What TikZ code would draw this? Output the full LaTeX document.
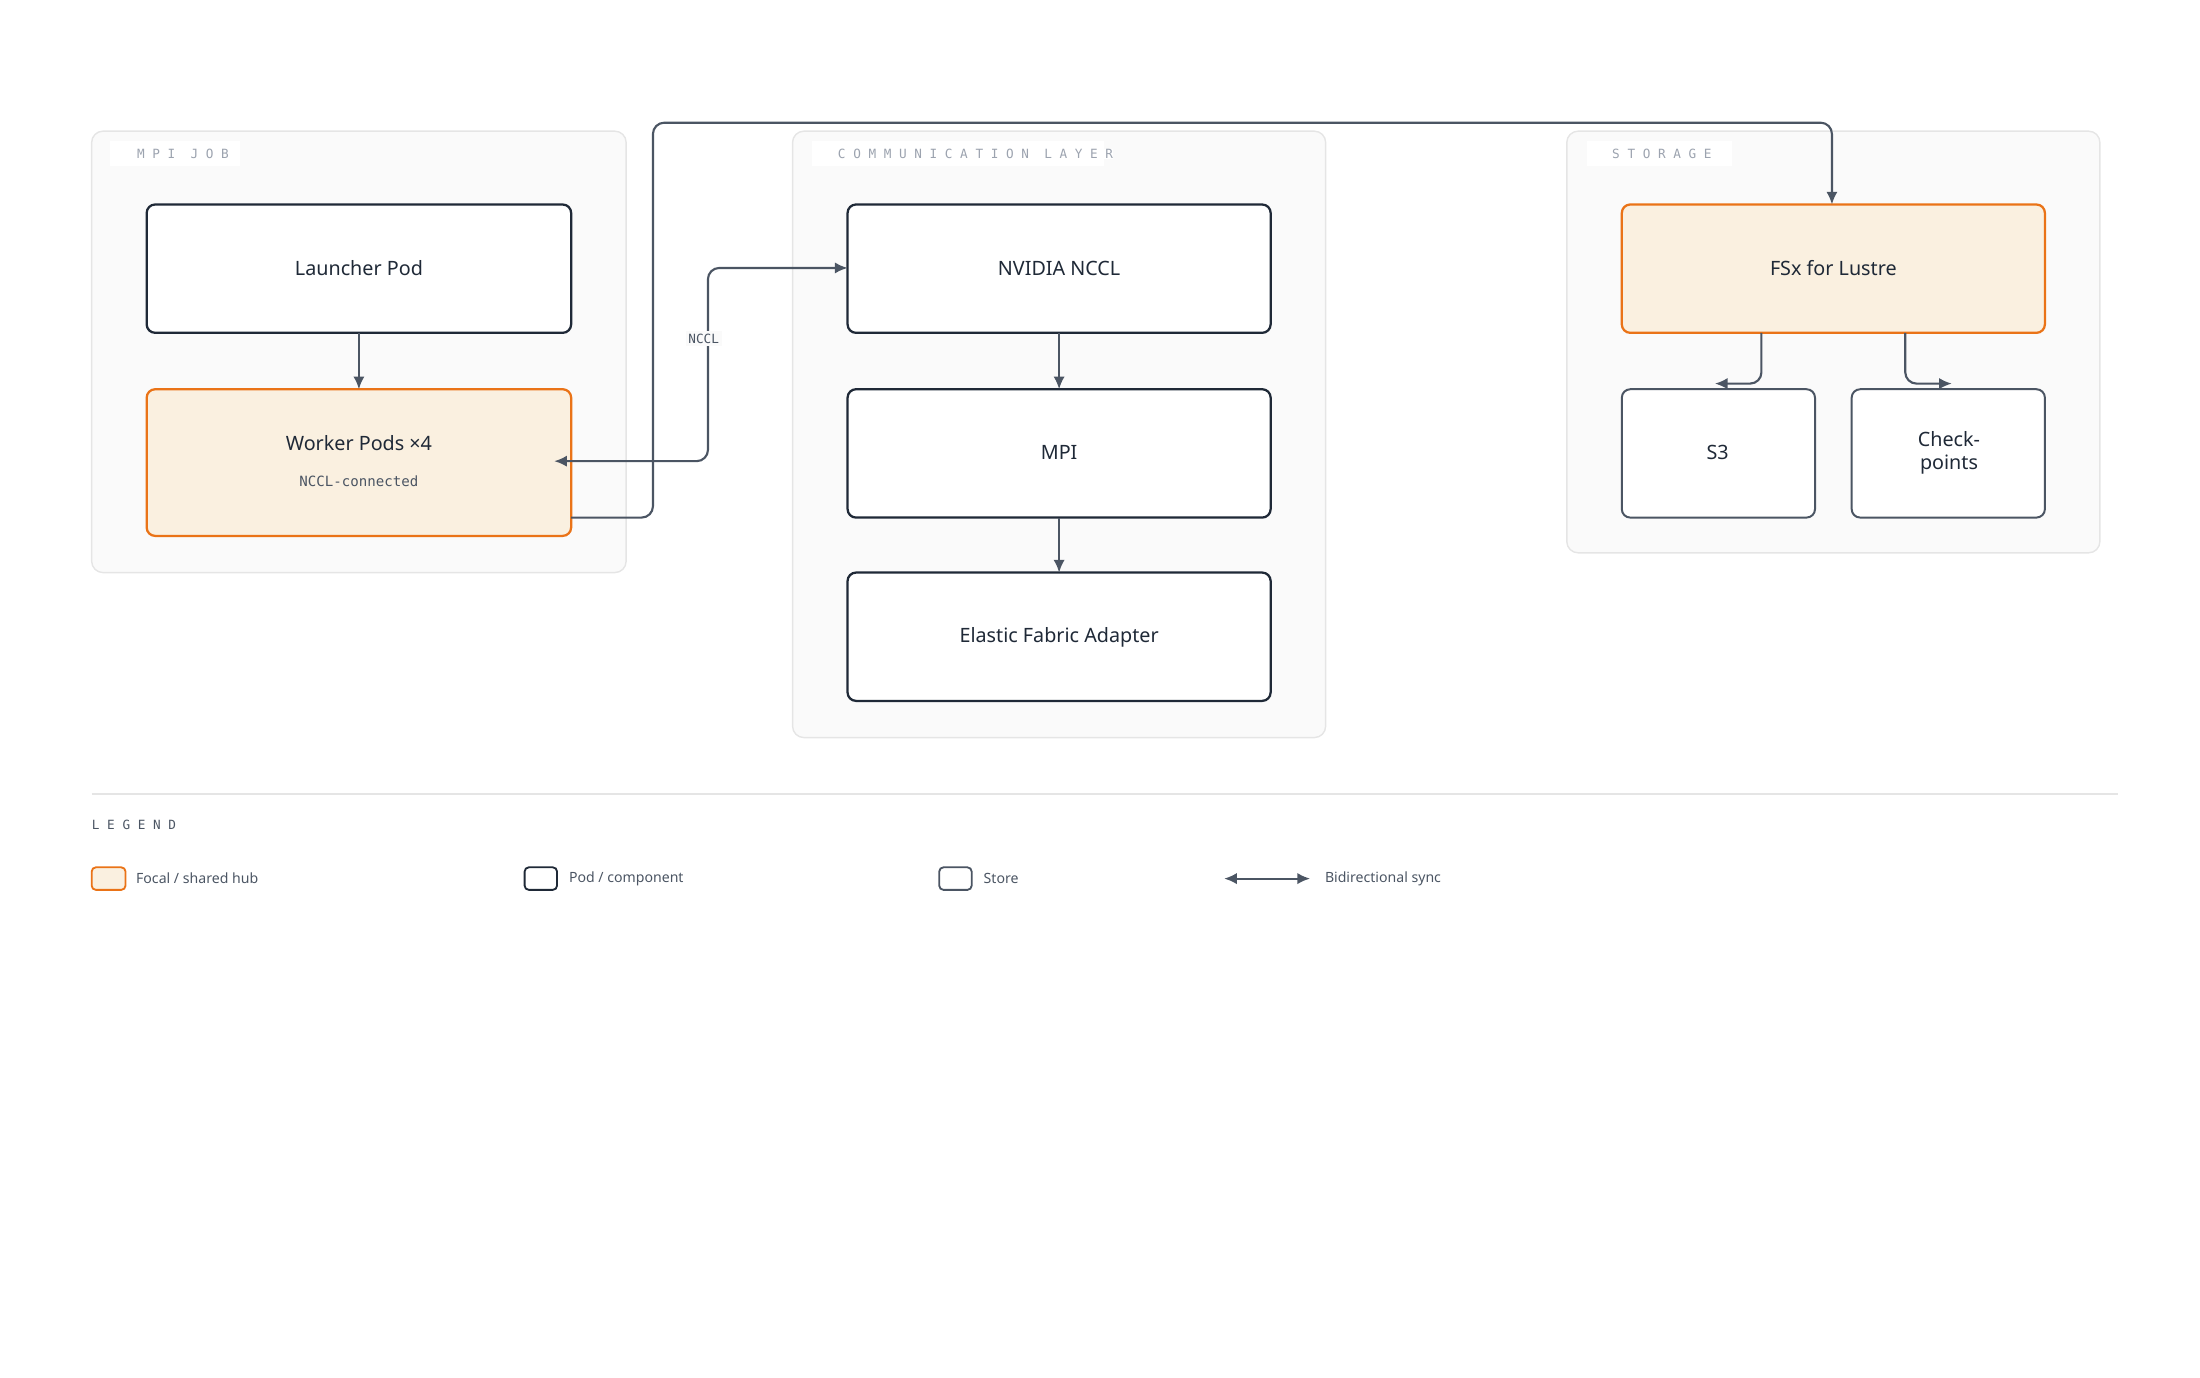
\documentclass[tikz,border=0pt]{standalone}
\usepackage{fontspec}
\setmainfont{Noto Sans}
\newfontfamily\monof{DejaVu Sans Mono}
\usetikzlibrary{arrows.meta}
\definecolor{ink}{HTML}{1F2937}
\definecolor{edge}{HTML}{4B5563}
\definecolor{org}{HTML}{EA7317}
\definecolor{orgfill}{HTML}{FAF0E0}
\definecolor{grp}{HTML}{FAFAFA}
\definecolor{grpl}{HTML}{E5E5E5}
\definecolor{lbl}{HTML}{9CA3AF}
\begin{document}
\begin{tikzpicture}[x=1pt,y=-1pt,
 grp/.style={draw=grpl,fill=grp,rounded corners=8pt,line width=1pt},
 chip/.style={fill=white,inner sep=0pt,font=\monof\fontsize{9}{10}\selectfont,text=lbl,anchor=west},
 box/.style={draw=ink,fill=white,rounded corners=6pt,line width=1.6pt},
 focal/.style={draw=org,fill=orgfill,rounded corners=6pt,line width=1.6pt},
 store/.style={draw=edge,fill=white,rounded corners=6pt,line width=1.4pt},
 t/.style={font=\fontsize{14}{16}\selectfont\bfseries,text=ink,align=center},
 conn/.style={draw=edge,line width=1.5pt,rounded corners=8pt,-{Latex[length=9pt,width=8pt]}},
 leg/.style={font=\fontsize{10}{12}\selectfont,text=edge,anchor=west}]
\useasboundingbox (0,0) rectangle (1560,977);
% groups
\draw[grp] (65,93) rectangle (444,406);
\fill[white] (78,100) rectangle (170,118);
\node[chip] (gl1) at (97,109) {M P I \ J O B};
\draw[grp] (562,93) rectangle (940,523);
\fill[white] (576,100) rectangle (783,118);
\node[chip] (gl2) at (594,109) {C O M M U N I C A T I O N \ L A Y E R};
\draw[grp] (1111,93) rectangle (1489,392);
\fill[white] (1125,100) rectangle (1228,118);
\node[chip] (gl3) at (1143,109) {S T O R A G E};
% boxes
\draw[box] (104,145) rectangle (405,236); \node[t] (lp) at (254.5,190) {Launcher Pod};
\coordinate (lpb) at (254.5,236);
\draw[focal] (104,276) rectangle (405,380);
\node[t] (wp) at (254.5,314) {Worker Pods ×4};
\node[font=\monof\fontsize{10}{12}\selectfont,text=edge] (wps) at (254.5,341) {NCCL-connected};
\coordinate (wpt) at (254.5,276);
\draw[box] (601,145) rectangle (901,236); \node[t] (nc) at (751,190) {NVIDIA NCCL};
\draw[box] (601,276) rectangle (901,367); \node[t] (mpi) at (751,321) {MPI};
\draw[box] (601,406) rectangle (901,497); \node[t] (efa) at (751,452) {Elastic Fabric Adapter};
\draw[focal] (1150,145) rectangle (1450,236); \node[t] (fsx) at (1300,190) {FSx for Lustre};
\draw[store] (1150,276) rectangle (1287,367); \node[t] (s3) at (1218,321) {S3};
\draw[store] (1313,276) rectangle (1450,367); \node[t] (ck) at (1382,321) {Check-\\points};
% connectors
\draw[conn] (lpb) -- (wpt);
\draw[conn] (751,236) -- (751,276);
\draw[conn] (751,367) -- (751,406);
\draw[conn] (405,367) -- (463,367) -- (463,87) -- (1299,87) -- (1299,145);
\draw[draw=edge,line width=1.5pt,rounded corners=8pt,{Latex[length=9pt,width=8pt]}-{Latex[length=9pt,width=8pt]}] (393,327) -- (502,327) -- (502,190) -- (601,190);
\node[fill=grp,inner sep=2pt,font=\monof\fontsize{9}{10}\selectfont,text=edge] (ncl) at (499,240) {NCCL};
\draw[conn] (1249,236) -- (1249,272) -- (1216,272);
\draw[conn] (1351,236) -- (1351,272) -- (1384,272);
% legend
\draw[grpl,line width=1pt] (65,563) -- (1502,563);
\node[font=\monof\fontsize{9}{10}\selectfont,text=edge,anchor=west,inner sep=0pt] (lg) at (65,585) {L E G E N D};
\draw[focal,rounded corners=3pt,line width=1.3pt] (65,615) rectangle (89,631);
\node[leg] (l1) at (93,623) {Focal / shared hub};
\draw[box,rounded corners=3pt,line width=1.3pt] (372,615) rectangle (395,631);
\node[leg] (l2) at (400,623) {Pod / component};
\draw[store,rounded corners=3pt,line width=1.3pt] (666,615) rectangle (689,631);
\node[leg] (l3) at (694,623) {Store};
\draw[draw=edge,line width=1.5pt,{Latex[length=9pt,width=8pt]}-{Latex[length=9pt,width=8pt]}] (868,623) -- (929,623);
\node[leg] (l4) at (936,623) {Bidirectional sync};
\end{tikzpicture}
\end{document}
